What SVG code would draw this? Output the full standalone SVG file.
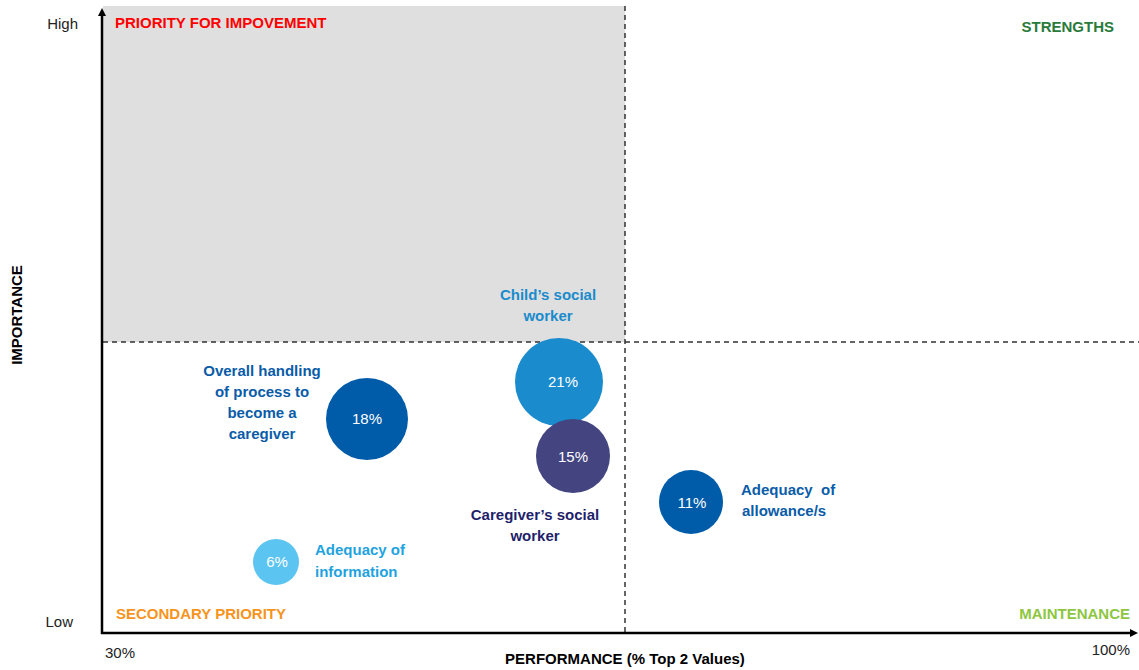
<svg xmlns="http://www.w3.org/2000/svg" width="1139" height="670" viewBox="0 0 1139 670">
<style>
.lbl{font-family:"Liberation Sans",Arial,sans-serif;font-weight:bold;font-size:15px}
.tick{font-family:"Liberation Sans",Arial,sans-serif;font-size:15px;fill:#222}
.pct{font-family:"Liberation Sans",Arial,sans-serif;font-size:15px;fill:#fff}
.dash{stroke:#333;stroke-width:1.5;stroke-dasharray:5,4;fill:none}
.axis{stroke:#000;stroke-width:2.5;fill:none}
</style>
<defs>
<marker id="ah" markerWidth="8" markerHeight="8" refX="4" refY="4" orient="auto" markerUnits="userSpaceOnUse" viewBox="0 0 8 8">
<path d="M0,0 L8,4 L0,8 z" fill="#000"/>
</marker>
</defs>
<rect width="1139" height="670" fill="#fff"/>
<rect x="103" y="6" width="522" height="336" fill="#dfdfdf"/>
<g id="connectors">
<line class="dash" x1="625" y1="6" x2="625" y2="633"/>
<line class="dash" x1="103" y1="342" x2="1139" y2="342"/>
<line class="axis" x1="102" y1="634" x2="102" y2="12" marker-end="url(#ah)"/>
<line class="axis" x1="101" y1="633" x2="1134" y2="633" marker-end="url(#ah)"/>
</g>
<g id="quadrants">
<text class="lbl" x="115" y="28" fill="#ff0000">PRIORITY FOR IMPOVEMENT</text>
<text class="lbl" x="1114" y="32" fill="#2a7a3b" text-anchor="end">STRENGTHS</text>
<text class="lbl" x="116" y="619" fill="#f7941d">SECONDARY PRIORITY</text>
<text class="lbl" x="1130" y="619" fill="#8dc63f" text-anchor="end">MAINTENANCE</text>
</g>
<g id="axes-labels">
<text class="tick" x="78" y="29" text-anchor="end">High</text>
<text class="tick" x="73" y="627" text-anchor="end">Low</text>
<text class="tick" x="105" y="658">30%</text>
<text class="tick" x="1130" y="655" text-anchor="end">100%</text>
<text class="lbl" x="625" y="664" fill="#000" text-anchor="middle">PERFORMANCE (% Top 2 Values)</text>
<text class="lbl" x="0" y="0" fill="#000" text-anchor="middle" transform="translate(22,315) rotate(-90)">IMPORTANCE</text>
</g>
<g id="node-overall">
<circle cx="367" cy="419" r="41" fill="#005ba8"/>
<text class="pct" x="367" y="424" text-anchor="middle">18%</text>
<text class="lbl" fill="#0a5ca8" text-anchor="middle"><tspan x="262" y="376">Overall handling</tspan><tspan x="262" y="397">of process to</tspan><tspan x="262" y="418">become a</tspan><tspan x="262" y="439">caregiver</tspan></text>
</g>
<g id="node-child">
<circle cx="559" cy="382" r="44" fill="#1a8bcc"/>
<text class="pct" x="563" y="387" text-anchor="middle">21%</text>
<text class="lbl" fill="#1a8bcc" text-anchor="middle"><tspan x="548" y="300">Child’s social</tspan><tspan x="548" y="321">worker</tspan></text>
</g>
<g id="node-caregiver">
<circle cx="573" cy="456" r="37" fill="#434480"/>
<text class="pct" x="573" y="462" text-anchor="middle">15%</text>
<text class="lbl" fill="#1f1f6b" text-anchor="middle"><tspan x="535" y="520">Caregiver’s social</tspan><tspan x="535" y="541">worker</tspan></text>
</g>
<g id="node-allowance">
<circle cx="691" cy="502" r="32" fill="#005ba8"/>
<text class="pct" x="692" y="508" text-anchor="middle">11%</text>
<text class="lbl" fill="#0a5ca8" style="white-space:pre"><tspan x="741" y="495">Adequacy  of</tspan><tspan x="742" y="516">allowance/s</tspan></text>
</g>
<g id="node-information">
<circle cx="276" cy="562" r="23" fill="#5bc4f0"/>
<text class="pct" x="277" y="567" text-anchor="middle">6%</text>
<text class="lbl" fill="#1fa3e0"><tspan x="315" y="555">Adequacy of</tspan><tspan x="315" y="577">information</tspan></text>
</g>
</svg>
